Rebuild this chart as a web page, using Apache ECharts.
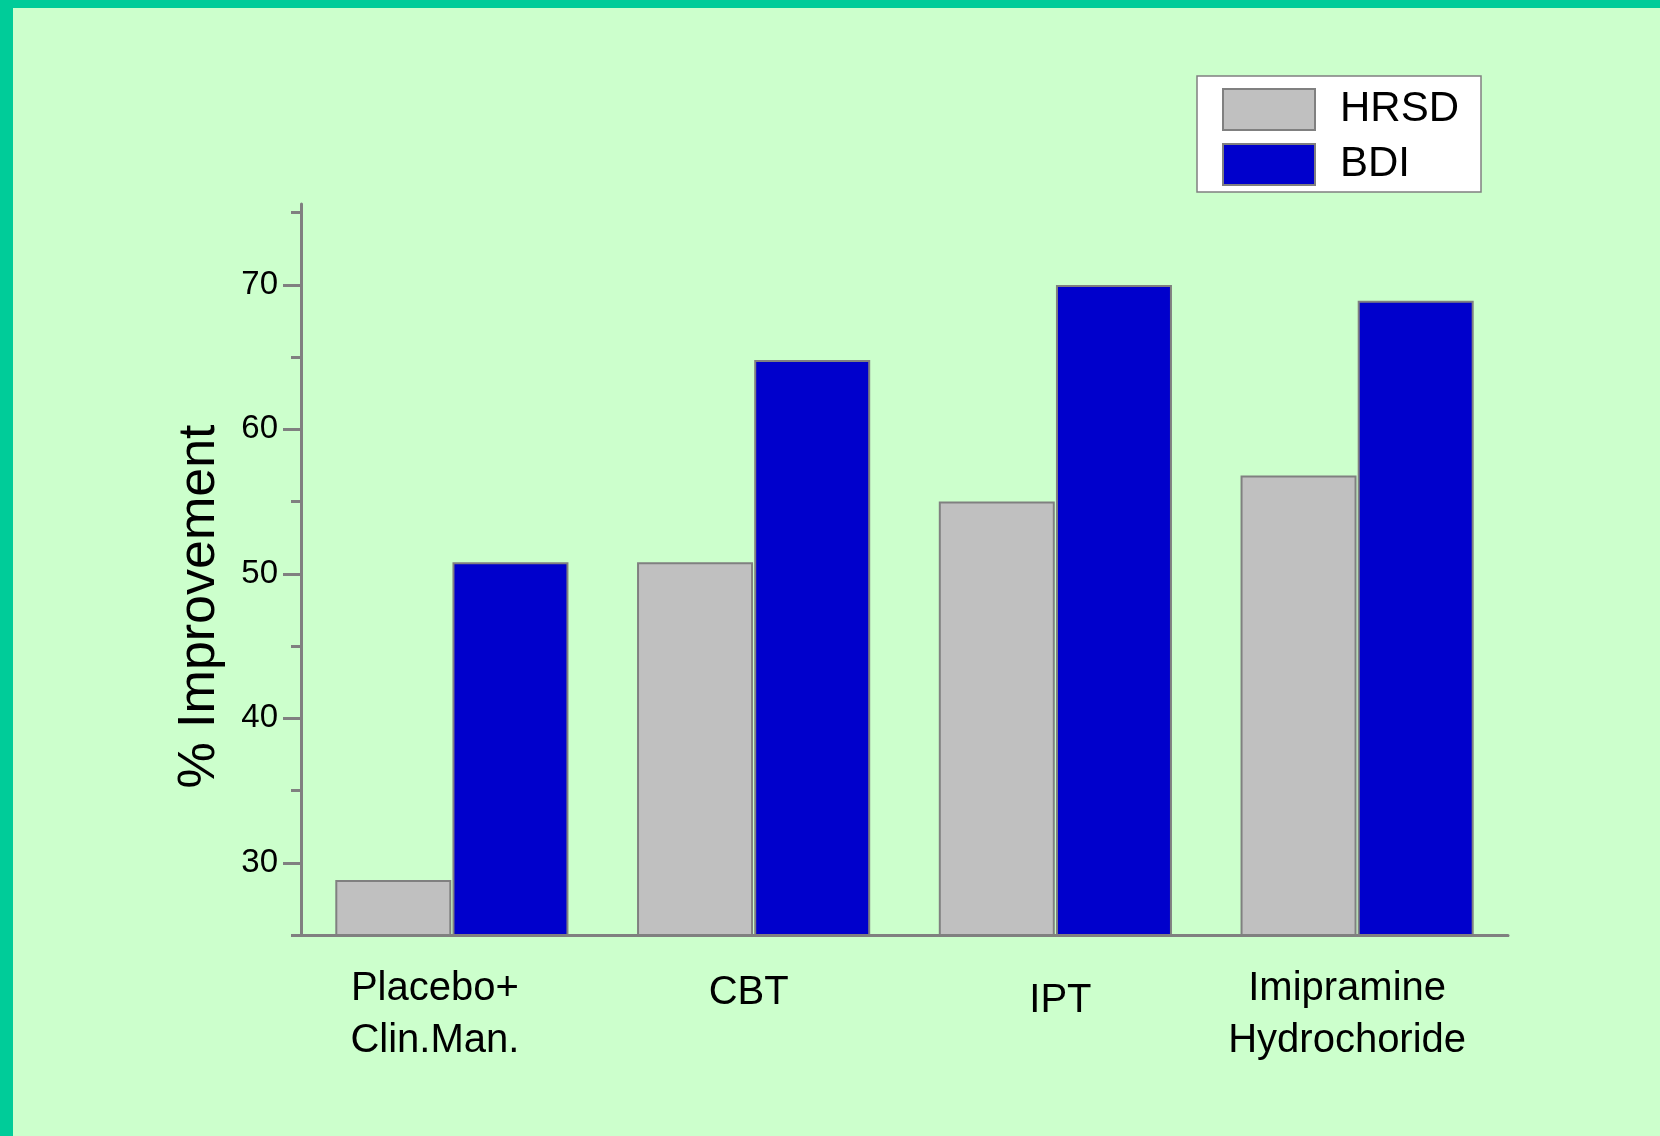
<!DOCTYPE html>
<html>
<head>
    <meta charset="utf-8">
    <title>% Improvement</title>
    <script src="https://cdn.jsdelivr.net/npm/echarts@6.0.0/dist/echarts.min.js"></script>
    <style>
        body { margin: 0; background: #CCFFCC; }
        #edge-top { position: absolute; left: 0; top: 0; width: 1660px; height: 8px; background: #00CC99; }
        #edge-left { position: absolute; left: 0; top: 0; width: 13px; height: 1136px; background: #00CC99; }
        #bar-chart { position: absolute; left: 0; top: 0; width: 1660px; height: 1136px; }
    </style>
</head>

<body>
<div id="edge-top"></div>
<div id="edge-left"></div>
<div id="bar-chart"></div>
</body>

<script>
    // 数据
    var categories = ['Placebo+\nClin.Man.', 'CBT', 'IPT', 'Imipramine\nHydrochoride'];
    var hrsd = [28.8, 50.8, 55, 56.8];
    var bdi = [50.8, 64.8, 70, 68.9];
    var majorTicks = [30, 40, 50, 60, 70];
    var minorTicks = [25, 35, 45, 55, 65, 75];

    // 每个类别标签的微调(参照原图)
    var labelPads = [[0, 34, 0, 0], [4, 10, 0, 0], [12, 0, 0, 10], [0, 20, 0, 0]];

    var font = "'Liberation Sans', Arial, sans-serif";
    var gray = '#808080';

    var barChart = echarts.init(document.getElementById('bar-chart'));

    var option = {
        backgroundColor: 'transparent',
        textStyle: { fontFamily: font, color: '#000' },
        legend: {
            orient: 'vertical',
            left: 1197,
            top: 76,
            padding: [12, 22, 6, 25],
            itemWidth: 92,
            itemHeight: 41,
            itemGap: 12,
            icon: 'rect',
            backgroundColor: '#fff',
            borderColor: gray,
            borderWidth: 1.5,
            borderRadius: 0,
            textStyle: { fontSize: 42, fontFamily: font, color: '#000', padding: [0, 0, 0, 20] },
            data: ['HRSD', 'BDI']
        },
        grid: { left: 301, right: 152, top: 204, bottom: 201 },
        xAxis: {
            type: 'category',
            data: categories.map(function (c, i) {
                return { value: c, textStyle: { padding: labelPads[i] } };
            }),
            axisLine: { lineStyle: { color: gray, width: 3 } },
            axisTick: { show: true, length: 2, lineStyle: { color: gray, width: 1 } },
            axisLabel: { fontSize: 40, lineHeight: 52, margin: 28, color: '#000', fontFamily: font, interval: 0 }
        },
        yAxis: [{
            type: 'value',
            min: 25,
            max: 75.6,
            interval: 5,
            name: '% Improvement',
            nameLocation: 'middle',
            nameRotate: 90,
            nameGap: 75,
            nameTextStyle: { fontSize: 52, fontFamily: font, color: '#000', padding: [0, 74, 0, 0] },
            axisLine: { show: true, lineStyle: { color: gray, width: 3 } },
            axisTick: { show: true, length: 10, customValues: minorTicks, lineStyle: { color: gray, width: 3 } },
            axisLabel: { fontSize: 33, margin: 23, color: '#000', fontFamily: font, customValues: majorTicks },
            splitLine: { show: false }
        }, {
            type: 'value',
            position: 'left',
            min: 25,
            max: 75.6,
            interval: 5,
            axisLine: { show: false },
            axisTick: { show: true, length: 18, customValues: majorTicks, lineStyle: { color: gray, width: 3 } },
            axisLabel: { show: false },
            splitLine: { show: false }
        }],
        series: [{
            name: 'HRSD',
            type: 'bar',
            data: hrsd,
            barWidth: 116,
            barGap: '1%',
            itemStyle: { color: '#C0C0C0', borderColor: gray, borderWidth: 2 }
        }, {
            name: 'BDI',
            type: 'bar',
            data: bdi,
            barWidth: 116,
            itemStyle: { color: '#0000CC', borderColor: gray, borderWidth: 2 }
        }]
    };

    barChart.setOption(option);
</script>
</html>
